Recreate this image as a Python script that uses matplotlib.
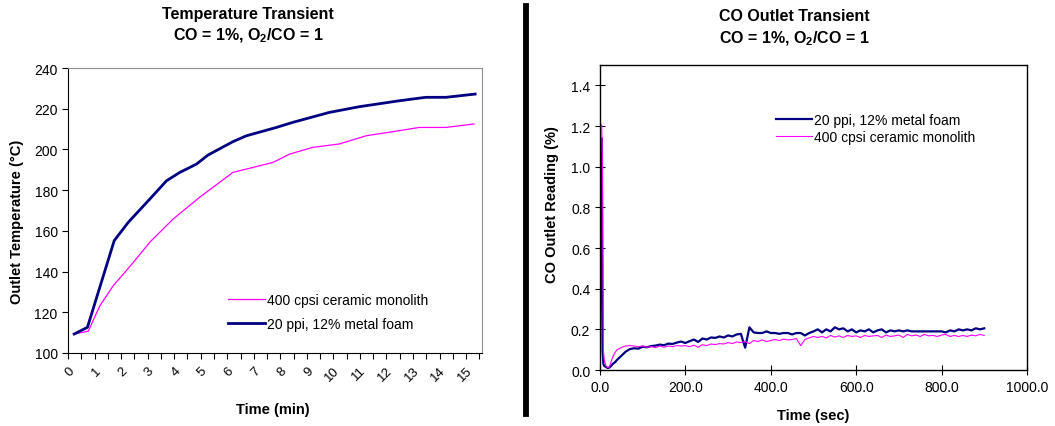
import numpy as np
import matplotlib
matplotlib.use("Agg")
import matplotlib.pyplot as plt
from matplotlib.ticker import MultipleLocator, FormatStrFormatter

plt.rcParams['font.family'] = ['Liberation Sans', 'DejaVu Sans']
plt.rcParams['mathtext.fontset'] = 'custom'
plt.rcParams['mathtext.rm'] = 'Liberation Sans'
plt.rcParams['mathtext.bf'] = 'Liberation Sans:bold'

NAVY = '#000080'
MAGENTA = '#FF00FF'

# --- temperature transient (min, degC)
temp_time_foam = [0.23, 0.73, 1.74, 2.27, 3.08, 3.71, 4.21, 4.84, 5.27, 6.21, 6.72,
                  7.85, 8.47, 9.85, 10.98, 12.48, 13.48, 14.24, 15.34]
temp_foam = [109.3, 112.6, 155.2, 164.2, 175.6, 184.6, 188.7, 192.8, 197.2, 203.8, 206.7,
             210.8, 213.3, 218.2, 221.0, 223.9, 225.6, 225.6, 227.2]
temp_time_mono = [0.23, 0.76, 1.20, 1.70, 2.46, 3.08, 3.96, 4.96, 6.21, 7.72, 8.35,
                  9.22, 10.23, 11.23, 12.23, 13.23, 14.24, 15.30]
temp_mono = [109.3, 110.7, 123.2, 133.0, 144.5, 154.4, 165.8, 176.5, 188.7, 193.6, 197.7,
             201.0, 202.7, 206.7, 208.7, 210.8, 210.8, 212.5]

# --- CO outlet transient (sec, %)
co_time = [0, 2, 4, 6, 8, 10, 14, 18, 22, 26, 30, 35, 40, 45, 50, 55, 60, 70, 80, 90, 100,
           110, 120, 130, 140, 150, 160, 170, 180, 190, 200, 210, 220, 230, 240, 250, 260,
           270, 280, 290, 300, 310, 320, 330, 340, 350, 360, 370, 380, 390, 400, 410, 420,
           430, 440, 450, 460, 470, 480, 490, 500, 510, 520, 530, 540, 550, 560, 570, 580,
           590, 600, 610, 620, 630, 640, 650, 660, 670, 680, 690, 700, 710, 720, 730, 740,
           750, 760, 770, 780, 790, 800, 810, 820, 830, 840, 850, 860, 870, 880, 890, 900]
co_foam = [0.22, 1.14, 1.14, 0.10, 0.03, 0.02, 0.015, 0.01, 0.012, 0.02, 0.03, 0.038, 0.05,
           0.06, 0.07, 0.08, 0.09, 0.103, 0.107, 0.105, 0.115,
           0.112, 0.118, 0.12, 0.125, 0.122, 0.13, 0.128, 0.135, 0.14, 0.133, 0.142, 0.15,
           0.138, 0.155, 0.15, 0.16, 0.158, 0.165, 0.16, 0.17, 0.165, 0.175, 0.178, 0.11,
           0.21, 0.185, 0.182, 0.182, 0.19, 0.182, 0.182, 0.178, 0.182, 0.182, 0.175, 0.182,
           0.182, 0.17, 0.182, 0.19, 0.2, 0.185, 0.2, 0.19, 0.21, 0.2, 0.205, 0.19,
           0.2, 0.185, 0.195, 0.19, 0.2, 0.185, 0.195, 0.2, 0.185, 0.195, 0.19, 0.195,
           0.19, 0.195, 0.19, 0.19, 0.19, 0.19, 0.19, 0.19, 0.19, 0.19, 0.185, 0.195,
           0.19, 0.2, 0.195, 0.2, 0.195, 0.205, 0.2, 0.205]
co_mono = [1.21, 1.21, 1.20, 1.01, 0.10, 0.05, 0.02, 0.012, 0.015, 0.04, 0.065, 0.085, 0.10,
           0.105, 0.11, 0.115, 0.118, 0.12, 0.118, 0.115, 0.118,
           0.112, 0.115, 0.11, 0.118, 0.112, 0.118, 0.115, 0.12, 0.118, 0.12, 0.115, 0.122,
           0.112, 0.125, 0.12, 0.128, 0.125, 0.13, 0.128, 0.135, 0.13, 0.138, 0.135, 0.14,
           0.13, 0.145, 0.14, 0.148, 0.14, 0.145, 0.15, 0.145, 0.152, 0.148, 0.15, 0.155,
           0.12, 0.15, 0.158, 0.165, 0.16, 0.165, 0.158, 0.17, 0.162, 0.168, 0.16, 0.17,
           0.165, 0.168, 0.16, 0.17, 0.165, 0.168, 0.17, 0.16, 0.172, 0.165, 0.168, 0.172,
           0.16, 0.175, 0.168, 0.172, 0.165, 0.175, 0.168, 0.17, 0.165, 0.172, 0.175, 0.165,
           0.17, 0.165, 0.17, 0.165, 0.172, 0.168, 0.175, 0.17]

fig = plt.figure(figsize=(10.55, 4.27), dpi=100)

# ---------------- left chart
ax1 = fig.add_axes([0.0645, 0.1710, 0.3924, 0.6674])
ax1.plot(temp_time_mono, temp_mono, color=MAGENTA, lw=0.9, label='400 cpsi ceramic monolith')
ax1.plot(temp_time_foam, temp_foam, color=NAVY, lw=2.0, label='20 ppi, 12% metal foam')
ax1.set_xlim(0, 15.6)
ax1.set_ylim(100, 240)
ax1.xaxis.set_major_locator(MultipleLocator(1))
ax1.xaxis.set_minor_locator(MultipleLocator(0.5))
ax1.yaxis.set_major_locator(MultipleLocator(20))
ax1.tick_params(axis='x', which='both', direction='out', length=4, width=0.8)
ax1.tick_params(axis='y', direction='out', length=4, width=0.8, labelsize=10)
ax1.tick_params(axis='x', labelsize=9.5, labelrotation=45, pad=4)
for lab in ax1.get_xticklabels():
    lab.set_ha('right')
    lab.set_va('top')
    lab.set_rotation_mode('anchor')
ax1.spines['top'].set_color('#909090')
ax1.spines['right'].set_color('#909090')
ax1.legend(loc='center left', bbox_to_anchor=(0.374, 0.144), frameon=False, fontsize=10,
           handlelength=2.6, handletextpad=0.2, labelspacing=0.7, borderaxespad=0)

fig.text(0.235, 0.966, 'Temperature Transient', ha='center', va='center',
         fontsize=11.5, fontweight='bold')
fig.text(0.235, 0.916, r'CO = 1%, O$_\mathbf{2}$/CO = 1', ha='center', va='center',
         fontsize=11.5, fontweight='bold')
fig.text(0.259, 0.040, 'Time (min)', ha='center', va='center', fontsize=10.5, fontweight='bold')
fig.text(0.016, 0.480, 'Outlet Temperature (°C)', ha='center', va='center', rotation=90,
         fontsize=10.5, fontweight='bold')

# ---------------- separator
fig.add_artist(plt.Line2D([0.4986, 0.4986], [0.028, 0.984], color='black', lw=4.2))

# ---------------- right chart
ax2 = fig.add_axes([0.5687, 0.1311, 0.4047, 0.7143])
ax2.plot(co_time, co_foam, color=NAVY, lw=1.6, label='20 ppi, 12% metal foam')
ax2.plot(co_time, co_mono, color=MAGENTA, lw=0.8, label='400 cpsi ceramic monolith')
ax2.set_xlim(0, 1000)
ax2.set_ylim(0, 1.5)
ax2.xaxis.set_major_locator(MultipleLocator(200))
ax2.xaxis.set_major_formatter(FormatStrFormatter('%.1f'))
ax2.yaxis.set_major_formatter(FormatStrFormatter('%.1f'))
ax2.set_yticks(np.arange(0, 1.41, 0.2))
ax2.tick_params(direction='inout', length=7, width=0.8, labelsize=10)
for sp in ax2.spines.values():
    sp.set_linewidth(1.0)
ax2.legend(loc='center left', bbox_to_anchor=(0.40, 0.792), frameon=False, fontsize=10,
           handlelength=2.6, handletextpad=0.1, labelspacing=0.25, borderaxespad=0)

fig.text(0.753, 0.962, 'CO Outlet Transient', ha='center', va='center',
         fontsize=11.5, fontweight='bold')
fig.text(0.753, 0.910, r'CO = 1%, O$_\mathbf{2}$/CO = 1', ha='center', va='center',
         fontsize=11.5, fontweight='bold')
fig.text(0.771, 0.026, 'Time (sec)', ha='center', va='center', fontsize=10.5, fontweight='bold')
fig.text(0.523, 0.520, 'CO Outlet Reading (%)', ha='center', va='center', rotation=90,
         fontsize=10.5, fontweight='bold')

fig.savefig('out.png', dpi=100)
